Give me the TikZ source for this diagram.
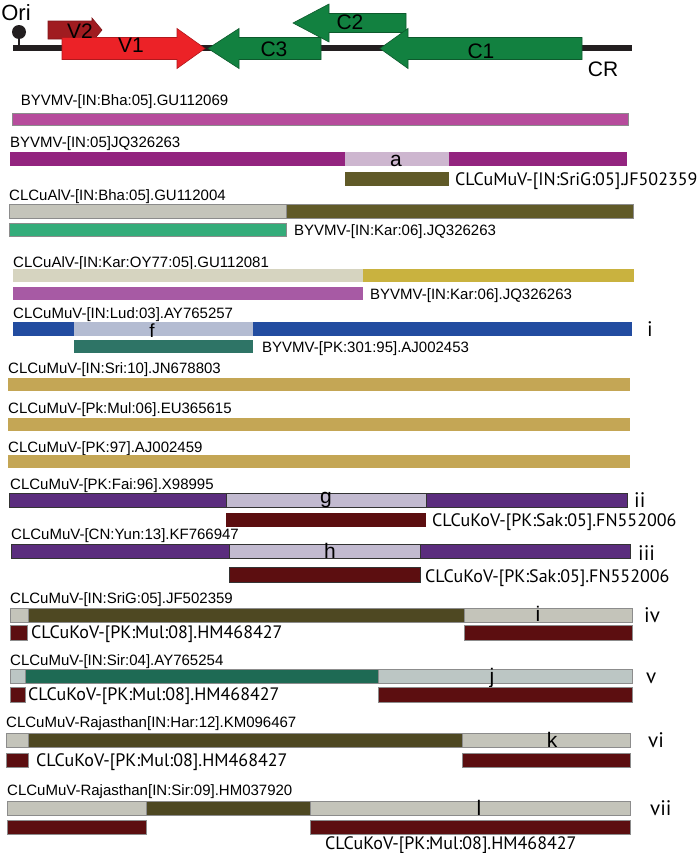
\documentclass[tikz,border=0pt]{standalone}
\usepackage{fontspec}
\setmainfont{Liberation Sans}
\newfontfamily\myrfont{PT Sans}
\usetikzlibrary{positioning}
\definecolor{lineBlack}{RGB}{35,31,32}
\definecolor{geneRed}{RGB}{236,34,39}
\definecolor{geneDkRed}{RGB}{160,28,32}
\definecolor{geneGreen}{RGB}{18,129,64}
\definecolor{byvMag}{RGB}{182,76,156}
\definecolor{byvPur}{RGB}{147,36,127}
\definecolor{lilac}{RGB}{205,182,207}
\definecolor{oliveBar}{RGB}{96,90,40}
\definecolor{oliveDk}{RGB}{78,72,34}
\definecolor{stone}{RGB}{196,196,186}
\definecolor{mint}{RGB}{52,172,122}
\definecolor{sand}{RGB}{214,212,192}
\definecolor{mustard}{RGB}{201,178,63}
\definecolor{orchid}{RGB}{167,90,164}
\definecolor{royal}{RGB}{34,76,160}
\definecolor{mist}{RGB}{180,188,210}
\definecolor{tealBar}{RGB}{46,116,102}
\definecolor{goldBar}{RGB}{196,166,85}
\definecolor{grape}{RGB}{91,45,126}
\definecolor{lavender}{RGB}{194,186,208}
\definecolor{maroon}{RGB}{92,14,16}
\definecolor{pine}{RGB}{30,106,84}
\definecolor{frost}{RGB}{188,198,196}

\tikzset{
  lab/.style={font=\fontsize{15bp}{17bp}\selectfont, inner sep=0pt, anchor=base west},
  labm/.style={font=\myrfont\fontsize{18bp}{20bp}\selectfont, inner sep=0pt, anchor=base west},
  tag/.style={font=\fontsize{21bp}{23bp}\selectfont, inner sep=0pt, anchor=base},
  numl/.style={font=\myrfont\fontsize{21bp}{23bp}\selectfont, inner sep=0pt, anchor=base west},
  genelab/.style={font=\fontsize{21bp}{23bp}\selectfont, inner sep=0pt},
  seg/.style={draw=black!45, line width=0.5bp},
  segdk/.style={draw=black!80, line width=0.8bp},
  genered/.style={fill=geneRed, draw=geneRed!75!black, line width=0.6bp},
  genegreen/.style={fill=geneGreen, draw=geneGreen!70!black, line width=0.6bp},
}

\begin{document}
\begin{tikzpicture}[x=1bp, y=-1bp]
    % one unit = one pixel of the 700 x 853 figure, y grows downwards
    \useasboundingbox (0,0) rectangle (700,853);

    %% ── genome map ──────────────────────────────────────────────────
    \draw[line width=6bp, lineBlack] (13,48) -- (632,48);
    \draw[line width=2.5bp, lineBlack] (19,36) -- (19,48);
    \fill[lineBlack] (19,32) circle[radius=7];
    \node[genelab, font=\fontsize{22bp}{24bp}\selectfont] (ori) at (16,13) {Ori};
    % virion sense
    \filldraw[fill=geneDkRed, draw=geneDkRed!80!black, line width=0.6bp]
      (48,21) -- (92,21) -- (92,18) -- (102,30) -- (92,42) -- (92,39) -- (48,39) -- cycle;
    \filldraw[genered]
      (62,37.5) -- (177,37.5) -- (177,28.5) -- (205,48.5) -- (177,68.5) -- (177,59.5) -- (62,59.5) -- cycle;
    % complementary sense
    \filldraw[genegreen]
      (406,13.5) -- (329,13.5) -- (329,4) -- (293,23) -- (329,42) -- (329,32.5) -- (406,32.5) -- cycle;
    \filldraw[genegreen]
      (321,37.5) -- (239,37.5) -- (239,28.5) -- (208,48.5) -- (239,68.5) -- (239,59.5) -- (321,59.5) -- cycle;
    \filldraw[genegreen]
      (582,37.5) -- (408,37.5) -- (408,28.5) -- (380,48.5) -- (408,68.5) -- (408,59.5) -- (582,59.5) -- cycle;
    \node[genelab] (v2) at (80,31) {V2};
    \node[genelab] (v1) at (131,45) {V1};
    \node[genelab] (c3) at (274,49) {C3};
    \node[genelab] (c2) at (350,22) {C2};
    \node[genelab] (c1) at (481,51) {C1};
    \node[genelab] (cr) at (603,69) {CR};

    %% ── BYVMV / CLCuAlV rows ────────────────────────────────────────
    \node[lab] (n1) at (20.7,105) {BYVMV-[IN:Bha:05].GU112069};
    \filldraw[seg, fill=byvMag] (12,113) rectangle (628,125);

    \node[lab] (n2) at (10,147.5) {BYVMV-[IN:05]JQ326263};
    \fill[byvPur] (10,152) rectangle (627,166);
    \fill[lilac] (345,152) rectangle (449,166);
    \node[tag] (ta) at (396,166) {a};
    \fill[oliveBar] (345,172) rectangle (449,186);
    \node[labm] (p2) at (455,185) {CLCuMuV-[IN:SriG:05].JF502359};

    \node[lab] (n3) at (9,200.5) {CLCuAlV-[IN:Bha:05].GU112004};
    \filldraw[seg, fill=stone] (9,204) rectangle (286,218);
    \filldraw[seg, fill=oliveBar] (286,204) rectangle (633,218);
    \filldraw[seg, fill=mint] (9,223) rectangle (286,236);
    \node[lab] (p3) at (294,235.5) {BYVMV-[IN:Kar:06].JQ326263};

    \node[lab] (n4) at (13,267.5) {CLCuAlV-[IN:Kar:OY77:05].GU112081};
    \fill[sand] (13,269) rectangle (363,282);
    \fill[mustard] (363,269) rectangle (634,282);
    \fill[orchid] (13,287) rectangle (363,300);
    \node[lab] (p4) at (370,299.5) {BYVMV-[IN:Kar:06].JQ326263};

    %% ── CLCuMuV rows ────────────────────────────────────────────────
    \node[lab] (n5) at (13,318) {CLCuMuV-[IN:Lud:03].AY765257};
    \fill[royal] (13,322) rectangle (632,336);
    \fill[mist] (74,322) rectangle (253,336);
    \node[tag, font=\fontsize{19bp}{21bp}\selectfont] (tf) at (152,337) {f};
    \node[numl] (r1) at (647,336) {i};
    \fill[tealBar] (74,340) rectangle (253,353);
    \node[lab] (p5) at (262,352.5) {BYVMV-[PK:301:95].AJ002453};

    % three parents with no recombination
    \foreach \name/\base/\top in {{CLCuMuV-[IN:Sri:10].JN678803}/373.5/378,
                                  {CLCuMuV-[Pk:Mul:06].EU365615}/413.5/418,
                                  {CLCuMuV-[PK:97].AJ002459}/452.5/455}
      {\node[lab] at (8,\base) {\name};
       \fill[goldBar] (8,\top) rectangle (630,\top+13);}

    \node[lab] (n9) at (10,489.5) {CLCuMuV-[PK:Fai:96].X98995};
    \filldraw[segdk, fill=grape] (9,493) rectangle (627,507);
    \filldraw[segdk, fill=lavender] (226,493) rectangle (426,507);
    \node[tag] (tg) at (326,503) {g};
    \node[numl] (r2) at (634,507) {ii};
    \fill[maroon] (226,513) rectangle (426,527);
    \node[labm] (p9) at (432,526) {CLCuKoV-[PK:Sak:05].FN552006};

    \node[lab] (n10) at (11,539.5) {CLCuMuV-[CN:Yun:13].KF766947};
    \filldraw[segdk, fill=grape] (11,544) rectangle (630,558);
    \filldraw[segdk, fill=lavender] (229,544) rectangle (420,558);
    \node[tag] (th) at (330,558) {h};
    \node[numl] (r3) at (638,560) {iii};
    \filldraw[segdk, fill=maroon] (229,567) rectangle (420,582);
    \node[labm] (p10) at (425,582) {CLCuKoV-[PK:Sak:05].FN552006};

    %% ── CLCuKoV-derived rows ────────────────────────────────────────
    \node[lab] (n11) at (10,603.5) {CLCuMuV-[IN:SriG:05].JF502359};
    \filldraw[seg, fill=stone] (10,608) rectangle (28,622);
    \filldraw[seg, fill=oliveDk] (28,608) rectangle (464,622);
    \filldraw[seg, fill=stone] (464,608) rectangle (632,622);
    \node[tag] (ti) at (538,621) {i};
    \node[numl] (r4) at (644,622) {iv};
    \filldraw[seg, fill=maroon] (10,625) rectangle (27,640);
    \filldraw[seg, fill=maroon] (464,625) rectangle (632,640);
    \node[labm] (p11) at (31,638) {CLCuKoV-[PK:Mul:08].HM468427};

    \node[lab] (n12) at (10,665.5) {CLCuMuV-[IN:Sir:04].AY765254};
    \filldraw[seg, fill=frost] (10,669) rectangle (25,683);
    \filldraw[seg, fill=pine] (25,669) rectangle (378,683);
    \filldraw[seg, fill=frost] (378,669) rectangle (632,683);
    \node[tag] (tj) at (492,683) {j};
    \node[numl] (r5) at (646,683) {v};
    \filldraw[seg, fill=maroon] (10,687) rectangle (25,702);
    \filldraw[seg, fill=maroon] (378,687) rectangle (632,702);
    \node[labm] (p12) at (28,700) {CLCuKoV-[PK:Mul:08].HM468427};

    \node[lab] (n13) at (6,727.5) {CLCuMuV-Rajasthan[IN:Har:12].KM096467};
    \filldraw[seg, fill=stone] (6,733) rectangle (28,747);
    \filldraw[seg, fill=oliveDk] (28,733) rectangle (462,747);
    \filldraw[seg, fill=stone] (462,733) rectangle (630,747);
    \node[tag] (tk) at (552,747) {k};
    \node[numl] (r6) at (648,747) {vi};
    \filldraw[seg, fill=maroon] (6,753) rectangle (28,767);
    \filldraw[seg, fill=maroon] (462,753) rectangle (630,767);
    \node[labm] (p13) at (36,766) {CLCuKoV-[PK:Mul:08].HM468427};

    \node[lab] (n14) at (7,795.5) {CLCuMuV-Rajasthan[IN:Sir:09].HM037920};
    \filldraw[seg, fill=stone] (7,801) rectangle (146,815);
    \filldraw[seg, fill=oliveDk] (146,801) rectangle (310,815);
    \filldraw[seg, fill=stone] (310,801) rectangle (630,815);
    \node[tag] (tl) at (479,815) {l};
    \node[numl] (r7) at (650,815) {vii};
    \filldraw[seg, fill=maroon] (7,820) rectangle (146,834);
    \filldraw[seg, fill=maroon] (310,820) rectangle (630,834);
    \node[labm] (p14) at (325,849) {CLCuKoV-[PK:Mul:08].HM468427};

  \end{tikzpicture}
\end{document}
